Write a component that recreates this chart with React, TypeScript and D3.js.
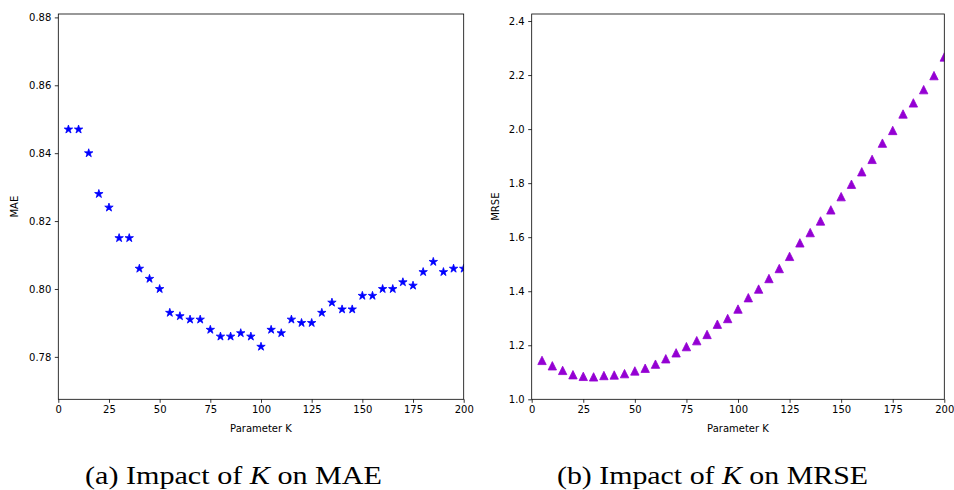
import React, { useEffect, useRef } from "react";
import * as d3 from "d3";

// K values shared by both panels
const kValues = [
  5, 10, 15, 20, 25, 30, 35, 40, 45, 50, 55, 60, 65, 70, 75, 80, 85, 90, 95, 100,
  105, 110, 115, 120, 125, 130, 135, 140, 145, 150, 155, 160, 165, 170, 175, 180,
  185, 190, 195, 200,
];

const maeValues = [
  0.847, 0.847, 0.84, 0.828, 0.824, 0.815, 0.815, 0.806, 0.803, 0.8, 0.793, 0.792,
  0.791, 0.791, 0.788, 0.786, 0.786, 0.787, 0.786, 0.783, 0.788, 0.787, 0.791, 0.79,
  0.79, 0.793, 0.796, 0.794, 0.794, 0.798, 0.798, 0.8, 0.8, 0.802, 0.801, 0.805,
  0.808, 0.805, 0.806, 0.806,
];

const mrseValues = [
  1.144, 1.124, 1.107, 1.091, 1.085, 1.083, 1.088, 1.09, 1.095, 1.105, 1.115, 1.13,
  1.15, 1.172, 1.195, 1.217, 1.24, 1.278, 1.299, 1.334, 1.376, 1.408, 1.447, 1.484,
  1.529, 1.579, 1.617, 1.66, 1.701, 1.75, 1.796, 1.842, 1.888, 1.948, 1.995, 2.056,
  2.097, 2.146, 2.198, 2.267,
];

const xTicks = [0, 25, 50, 75, 100, 125, 150, 175, 200];
const maeTicks = [0.78, 0.8, 0.82, 0.84, 0.86, 0.88];
const mrseTicks = [1.0, 1.2, 1.4, 1.6, 1.8, 2.0, 2.2, 2.4];

const panels = [
  {
    id: "mae",
    values: maeValues,
    yTicks: maeTicks,
    yDomain: [0.7675, 0.881],
    yFormat: d3.format(".2f"),
    yLabel: "MAE",
    left: 58.3,
    right: 463.7,
    labelX: 14.5,
    marker: "star",
    color: "#0000ff",
    caption: ["(a) Impact of ", "K", " on MAE"],
    captionX: 233.5,
    captionW: 297,
  },
  {
    id: "mrse",
    values: mrseValues,
    yTicks: mrseTicks,
    yDomain: [1.0, 2.426],
    yFormat: d3.format(".1f"),
    yLabel: "MRSE",
    left: 531.7,
    right: 944.3,
    labelX: 495,
    marker: "triangle",
    color: "#9400d3",
    caption: ["(b) Impact of ", "K", " on MRSE"],
    captionX: 712.5,
    captionW: 311,
  },
];

const App = () => {
  const svgRef = useRef(null);

  useEffect(() => {
    const svg = d3.select(svgRef.current);
    svg.selectAll("*").remove();

    const top = 14;
    const bottom = 399.3;
    const tickFont = "DejaVu Sans, sans-serif";

    panels.forEach((p) => {
      const xScale = d3.scaleLinear().domain([0, 200]).range([p.left, p.right]);
      const yScale = d3.scaleLinear().domain(p.yDomain).range([bottom, top]);

      svg
        .append("defs")
        .append("clipPath")
        .attr("id", `clip-${p.id}`)
        .append("rect")
        .attr("x", p.left)
        .attr("y", top)
        .attr("width", p.right - p.left)
        .attr("height", bottom - top);

      // markers
      const g = svg.append("g").attr("clip-path", `url(#clip-${p.id})`);
      const starPath = d3.symbol().type(d3.symbolStar).size(22)();
      const triPath = "M0,-4.2L4.2,4.2L-4.2,4.2Z";
      g.selectAll("path")
        .data(kValues.map((k, i) => [k, p.values[i]]))
        .join("path")
        .attr("d", p.marker === "star" ? starPath : triPath)
        .attr("transform", (d) => `translate(${xScale(d[0])},${yScale(d[1])})`)
        .attr("fill", p.color)
        .attr("stroke", p.color)
        .attr("stroke-width", 0.8);

      // axes
      const xAxis = svg
        .append("g")
        .attr("transform", `translate(0,${bottom})`)
        .call(d3.axisBottom(xScale).tickValues(xTicks).tickSize(3.5).tickPadding(3.5));
      const yAxis = svg
        .append("g")
        .attr("transform", `translate(${p.left},0)`)
        .call(
          d3.axisLeft(yScale).tickValues(p.yTicks).tickFormat(p.yFormat).tickSize(3.5).tickPadding(3.5)
        );
      [xAxis, yAxis].forEach((a) => {
        a.select(".domain").remove();
        a.selectAll("line").attr("stroke", "#000").attr("stroke-width", 0.8);
        a.selectAll("text")
          .attr("fill", "#000")
          .style("font-family", tickFont)
          .style("font-size", "10px");
      });

      // frame
      svg
        .append("rect")
        .attr("x", p.left)
        .attr("y", top)
        .attr("width", p.right - p.left)
        .attr("height", bottom - top)
        .attr("fill", "none")
        .attr("stroke", "#000")
        .attr("stroke-width", 0.8);

      svg
        .append("text")
        .attr("x", (p.left + p.right) / 2)
        .attr("y", 432)
        .attr("text-anchor", "middle")
        .style("font-family", tickFont)
        .style("font-size", "10px")
        .text("Parameter K");

      svg
        .append("text")
        .attr("transform", `translate(${p.labelX + 3.5},${(top + bottom) / 2}) rotate(-90)`)
        .attr("text-anchor", "middle")
        .style("font-family", tickFont)
        .style("font-size", "10px")
        .text(p.yLabel);

      // caption below each panel
      const cap = svg
        .append("text")
        .attr("x", p.captionX)
        .attr("y", 484)
        .attr("text-anchor", "middle")
        .attr("textLength", p.captionW)
        .attr("lengthAdjust", "spacingAndGlyphs")
        .style("font-family", "Liberation Serif, serif")
        .style("font-size", "25px");
      cap.append("tspan").text(p.caption[0]);
      cap.append("tspan").style("font-style", "italic").text(p.caption[1]);
      cap.append("tspan").text(p.caption[2]);
    });
  }, []);

  return (
    <svg
      ref={svgRef}
      width={954}
      height={490}
      style={{ position: "absolute", left: 0, top: 0, background: "#fff" }}
    ></svg>
  );
};

export default App;
